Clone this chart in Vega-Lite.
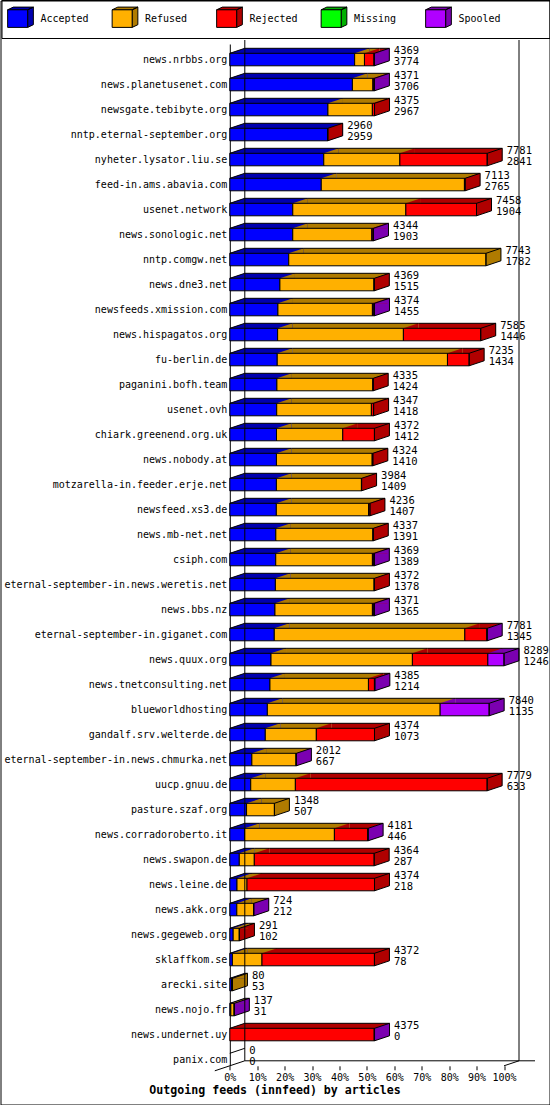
{
  "$schema": "https://vega.github.io/schema/vega-lite/v6.json",
  "width": 549,
  "height": 1104,
  "autosize": {"type": "none"},
  "padding": {"left": 0.5, "top": 0.5, "right": 0.5, "bottom": 0.5},
  "background": "white",
  "config": {"view": {"stroke": "black", "strokeWidth": 1, "fill": "white"}, "font": "DejaVu Sans Mono",
    "axisX": {"domain": false, "grid": false, "ticks": true, "tickSize": 4, "tickColor": "black", "labelFont": "DejaVu Sans Mono", "labelFontSize": 10, "labelColor": "black", "labelPadding": 3, "labelFlush": false, "labelOverlap": false, "labelSeparation": -10}},
  "data": {"values": [
    {"site": "news.nrbbs.org", "total": 4369, "Accepted": 3774, "Refused": 297, "Rejected": 290, "Missing": 0, "Spooled": 8},
    {"site": "news.planetusenet.com", "total": 4371, "Accepted": 3706, "Refused": 620, "Rejected": 25, "Missing": 0, "Spooled": 20},
    {"site": "newsgate.tebibyte.org", "total": 4375, "Accepted": 2967, "Refused": 1343, "Rejected": 65, "Missing": 0, "Spooled": 0},
    {"site": "nntp.eternal-september.org", "total": 2960, "Accepted": 2959, "Refused": 0, "Rejected": 1, "Missing": 0, "Spooled": 0},
    {"site": "nyheter.lysator.liu.se", "total": 7781, "Accepted": 2841, "Refused": 2300, "Rejected": 2640, "Missing": 0, "Spooled": 0},
    {"site": "feed-in.ams.abavia.com", "total": 7113, "Accepted": 2765, "Refused": 4328, "Rejected": 20, "Missing": 0, "Spooled": 0},
    {"site": "usenet.network", "total": 7458, "Accepted": 1904, "Refused": 3418, "Rejected": 2136, "Missing": 0, "Spooled": 0},
    {"site": "news.sonologic.net", "total": 4344, "Accepted": 1903, "Refused": 2390, "Rejected": 35, "Missing": 0, "Spooled": 16},
    {"site": "nntp.comgw.net", "total": 7743, "Accepted": 1782, "Refused": 5961, "Rejected": 0, "Missing": 0, "Spooled": 0},
    {"site": "news.dne3.net", "total": 4369, "Accepted": 1515, "Refused": 2844, "Rejected": 10, "Missing": 0, "Spooled": 0},
    {"site": "newsfeeds.xmission.com", "total": 4374, "Accepted": 1455, "Refused": 2856, "Rejected": 40, "Missing": 0, "Spooled": 23},
    {"site": "news.hispagatos.org", "total": 7585, "Accepted": 1446, "Refused": 3802, "Rejected": 2337, "Missing": 0, "Spooled": 0},
    {"site": "fu-berlin.de", "total": 7235, "Accepted": 1434, "Refused": 5146, "Rejected": 655, "Missing": 0, "Spooled": 0},
    {"site": "paganini.bofh.team", "total": 4335, "Accepted": 1424, "Refused": 2901, "Rejected": 10, "Missing": 0, "Spooled": 0},
    {"site": "usenet.ovh", "total": 4347, "Accepted": 1418, "Refused": 2862, "Rejected": 67, "Missing": 0, "Spooled": 0},
    {"site": "chiark.greenend.org.uk", "total": 4372, "Accepted": 1412, "Refused": 2003, "Rejected": 957, "Missing": 0, "Spooled": 0},
    {"site": "news.nobody.at", "total": 4324, "Accepted": 1410, "Refused": 2894, "Rejected": 20, "Missing": 0, "Spooled": 0},
    {"site": "motzarella-in.feeder.erje.net", "total": 3984, "Accepted": 1409, "Refused": 2570, "Rejected": 5, "Missing": 0, "Spooled": 0},
    {"site": "newsfeed.xs3.de", "total": 4236, "Accepted": 1407, "Refused": 2789, "Rejected": 40, "Missing": 0, "Spooled": 0},
    {"site": "news.mb-net.net", "total": 4337, "Accepted": 1391, "Refused": 2936, "Rejected": 10, "Missing": 0, "Spooled": 0},
    {"site": "csiph.com", "total": 4369, "Accepted": 1389, "Refused": 2922, "Rejected": 40, "Missing": 0, "Spooled": 18},
    {"site": "eternal-september-in.news.weretis.net", "total": 4372, "Accepted": 1378, "Refused": 2984, "Rejected": 10, "Missing": 0, "Spooled": 0},
    {"site": "news.bbs.nz", "total": 4371, "Accepted": 1365, "Refused": 2946, "Rejected": 40, "Missing": 0, "Spooled": 20},
    {"site": "eternal-september-in.giganet.com", "total": 7781, "Accepted": 1345, "Refused": 5760, "Rejected": 666, "Missing": 0, "Spooled": 10},
    {"site": "news.quux.org", "total": 8289, "Accepted": 1246, "Refused": 4274, "Rejected": 2281, "Missing": 0, "Spooled": 488},
    {"site": "news.tnetconsulting.net", "total": 4385, "Accepted": 1214, "Refused": 2977, "Rejected": 181, "Missing": 0, "Spooled": 13},
    {"site": "blueworldhosting", "total": 7840, "Accepted": 1135, "Refused": 5224, "Rejected": 0, "Missing": 0, "Spooled": 1481},
    {"site": "gandalf.srv.welterde.de", "total": 4374, "Accepted": 1073, "Refused": 1543, "Rejected": 1758, "Missing": 0, "Spooled": 0},
    {"site": "eternal-september-in.news.chmurka.net", "total": 2012, "Accepted": 667, "Refused": 1335, "Rejected": 0, "Missing": 0, "Spooled": 10},
    {"site": "uucp.gnuu.de", "total": 7779, "Accepted": 633, "Refused": 1349, "Rejected": 5797, "Missing": 0, "Spooled": 0},
    {"site": "pasture.szaf.org", "total": 1348, "Accepted": 507, "Refused": 841, "Rejected": 0, "Missing": 0, "Spooled": 0},
    {"site": "news.corradoroberto.it", "total": 4181, "Accepted": 446, "Refused": 2716, "Rejected": 1009, "Missing": 0, "Spooled": 10},
    {"site": "news.swapon.de", "total": 4364, "Accepted": 287, "Refused": 454, "Rejected": 3623, "Missing": 0, "Spooled": 0},
    {"site": "news.leine.de", "total": 4374, "Accepted": 218, "Refused": 302, "Rejected": 3854, "Missing": 0, "Spooled": 0},
    {"site": "news.akk.org", "total": 724, "Accepted": 212, "Refused": 507, "Rejected": 0, "Missing": 0, "Spooled": 5},
    {"site": "news.gegeweb.org", "total": 291, "Accepted": 102, "Refused": 185, "Rejected": 4, "Missing": 0, "Spooled": 0},
    {"site": "sklaffkom.se", "total": 4372, "Accepted": 78, "Refused": 895, "Rejected": 3399, "Missing": 0, "Spooled": 0},
    {"site": "arecki.site", "total": 80, "Accepted": 53, "Refused": 27, "Rejected": 0, "Missing": 0, "Spooled": 0},
    {"site": "news.nojo.fr", "total": 137, "Accepted": 31, "Refused": 100, "Rejected": 0, "Missing": 0, "Spooled": 6},
    {"site": "news.undernet.uy", "total": 4375, "Accepted": 0, "Refused": 0, "Rejected": 4365, "Missing": 0, "Spooled": 10},
    {"site": "panix.com", "total": 0, "Accepted": 0, "Refused": 0, "Rejected": 0, "Missing": 0, "Spooled": 0}
  ]},
  "encoding": {
    "y": {
      "field": "site", "type": "nominal", "sort": null, "title": null,
      "scale": {
        "domain": ["news.nrbbs.org","news.planetusenet.com","newsgate.tebibyte.org","nntp.eternal-september.org","nyheter.lysator.liu.se","feed-in.ams.abavia.com","usenet.network","news.sonologic.net","nntp.comgw.net","news.dne3.net","newsfeeds.xmission.com","news.hispagatos.org","fu-berlin.de","paganini.bofh.team","usenet.ovh","chiark.greenend.org.uk","news.nobody.at","motzarella-in.feeder.erje.net","newsfeed.xs3.de","news.mb-net.net","csiph.com","eternal-september-in.news.weretis.net","news.bbs.nz","eternal-september-in.giganet.com","news.quux.org","news.tnetconsulting.net","blueworldhosting","gandalf.srv.welterde.de","eternal-september-in.news.chmurka.net","uucp.gnuu.de","pasture.szaf.org","news.corradoroberto.it","news.swapon.de","news.leine.de","news.akk.org","news.gegeweb.org","sklaffkom.se","arecki.site","news.nojo.fr","news.undernet.uy","panix.com"],
        "range": [43.5, 1065.3],
        "paddingInner": 0.5, "paddingOuter": 0.186, "align": 1
      },
      "axis": {"offset": -229.3, "domain": true, "domainColor": "black", "domainWidth": 1, "ticks": false, "labelPadding": 3, "labelLimit": 400, "labelFont": "DejaVu Sans Mono", "labelFontSize": 10, "labelColor": "black", "grid": false}
    }
  },
  "layer": [
    {
      "transform": [
        {"fold": ["Accepted","Refused","Rejected","Missing","Spooled"], "as": ["status","count"]},
        {"filter": "datum.count > 0"},
        {"stack": "count", "groupby": ["site"], "sort": [{"field": "status", "order": "ascending"}], "as": ["x0","x1"]}
      ],
      "mark": {"type": "bar", "xOffset": 15, "x2Offset": 15, "yOffset": -5, "y2Offset": -5},
      "encoding": {
        "x": {"field": "x0", "type": "quantitative", "stack": null, "title": null, "scale": {"domain": [0, 8289], "range": [229.3, 503.5], "nice": false, "zero": true},
          "axis": {"offset": -38.7, "values": [0, 828.9, 1657.8, 2486.7, 3315.6, 4144.5, 4973.4, 5802.3, 6631.2, 7460.1, 8289], "labelExpr": "round(datum.value / 82.89) + '%'", "labelOverlap": false, "labelSeparation": -10, "labelFlush": false, "labelBound": false, "title": null}},
        "x2": {"field": "x1"},
        "fill": {"field": "status", "type": "nominal",
          "scale": {"domain": ["Accepted","Refused","Rejected","Missing","Spooled","-"], "range": ["#0000b0","#b07b00","#b00000","#00b000","#7b00b0","#ffffff"]},
          "legend": {"orient": "none", "legendX": 1.0, "legendY": -0.5, "direction": "horizontal", "columns": 5, "gridAlign": "all", "columnPadding": 20.5,
            "values": ["Accepted","Refused","Rejected","Missing","Spooled"],
            "symbolType": "M-1.285,-0.93L-0.715,-1.2L1.285,-1.2L0.715,-0.93ZM0.715,-0.93L1.285,-1.2L1.285,0.56L0.715,0.83Z",
            "symbolSize": 400, "symbolStrokeColor": "black", "symbolStrokeWidth": 1, "symbolOpacity": 1,
            "labelOffset": 9.45, "labelFont": "DejaVu Sans Mono", "labelFontSize": 10, "labelColor": "black", "labelOpacity": 0,
            "title": null, "padding": 8.5}
        }
      }
    },
    {
      "transform": [
        {"fold": ["Accepted","Refused","Rejected","Missing","Spooled"], "as": ["status","count"]},
        {"filter": "datum.count > 0"},
        {"stack": "count", "groupby": ["site"], "sort": [{"field": "status", "order": "ascending"}], "as": ["x0","x1"]}
      ],
      "mark": {"type": "point", "shape": "M0,6.25L0,-6.25L15,-11.25L15,1.25Z", "size": 4, "filled": true, "opacity": 1},
      "encoding": {
        "x": {"field": "x1", "type": "quantitative", "title": null},
        "fill": {"field": "status", "type": "nominal", "legend": null}
      }
    },
    {
      "transform": [
        {"fold": ["Accepted","Refused","Rejected","Missing","Spooled"], "as": ["status","count"]},
        {"filter": "datum.count > 0"},
        {"stack": "count", "groupby": ["site"], "sort": [{"field": "status", "order": "ascending"}], "as": ["x0","x1"]}
      ],
      "mark": {"type": "point", "shape": "M0,-6.25L15,-11.25L15,-6.25Z", "size": 4, "filled": true, "opacity": 1},
      "encoding": {
        "x": {"field": "x0", "type": "quantitative", "title": null},
        "fill": {"field": "status", "type": "nominal", "legend": null}
      }
    },
    {
      "transform": [
        {"fold": ["Accepted","Refused","Rejected","Missing","Spooled"], "as": ["status","count"]},
        {"filter": "datum.count > 0"},
        {"stack": "count", "groupby": ["site"], "sort": [{"field": "status", "order": "ascending"}], "as": ["x0","x1"]}
      ],
      "mark": {"type": "bar", "stroke": "black", "strokeWidth": 1},
      "encoding": {
        "x": {"field": "x0", "type": "quantitative", "stack": null, "title": null},
        "x2": {"field": "x1"},
        "color": {"field": "status", "type": "nominal",
          "scale": {"domain": ["Accepted","Refused","Rejected","Missing","Spooled"], "range": ["#0000ff","#ffb000","#ff0000","#00ff00","#b000ff"]},
          "legend": {"orient": "none", "legendX": 1.0, "legendY": -0.5, "direction": "horizontal", "columns": 5, "gridAlign": "all", "columnPadding": 20.5,
            "symbolType": "M-1.285,-0.93H0.715V0.83H-1.285ZM1.285,-1.2",
            "symbolSize": 400, "symbolStrokeColor": "black", "symbolStrokeWidth": 1, "symbolOpacity": 1,
            "labelOffset": 9.45, "labelFont": "DejaVu Sans Mono", "labelFontSize": 10, "labelColor": "black",
            "title": " ", "titleOrient": "right", "titlePadding": 39.5, "titleFont": "DejaVu Sans Mono", "titleFontSize": 10,
            "padding": 8.5, "strokeColor": "black"}
        }
      }
    },
    {
      "transform": [
        {"fold": ["Accepted","Refused","Rejected","Missing","Spooled"], "as": ["status","count"]},
        {"filter": "datum.count > 0"},
        {"stack": "count", "groupby": ["site"], "sort": [{"field": "status", "order": "ascending"}], "as": ["x0","x1"]}
      ],
      "mark": {"type": "rule", "color": "black", "strokeWidth": 1, "xOffset": 15, "x2Offset": 15, "yOffset": -11.25, "y2Offset": -11.25},
      "encoding": {"x": {"field": "x0", "type": "quantitative", "title": null}, "x2": {"field": "x1"}}
    },
    {
      "transform": [
        {"fold": ["Accepted","Refused","Rejected","Missing","Spooled"], "as": ["status","count"]},
        {"filter": "datum.count > 0"},
        {"stack": "count", "groupby": ["site"], "sort": [{"field": "status", "order": "ascending"}], "as": ["x0","x1"]},
        {"filter": "datum.x0 == 0"}
      ],
      "mark": {"type": "point", "shape": "M0,-6.25L15,-11.25", "size": 4, "filled": false, "color": "black", "strokeWidth": 1, "opacity": 1},
      "encoding": {"x": {"field": "x0", "type": "quantitative", "title": null}}
    },
    {
      "transform": [{"filter": "datum.total > 0"}],
      "mark": {"type": "point", "shape": "M0,6.25L0,-6.25L15,-11.25L15,1.25Z", "size": 4, "filled": false, "color": "black", "strokeWidth": 1, "opacity": 1},
      "encoding": {"x": {"field": "total", "type": "quantitative", "title": null}}
    },
    {
      "mark": {"type": "text", "align": "left", "baseline": "alphabetic", "dx": 19.5, "dy": -5.2, "font": "DejaVu Sans Mono", "fontSize": 10.5, "color": "black"},
      "encoding": {"x": {"field": "total", "type": "quantitative", "title": null}, "text": {"field": "total", "type": "quantitative", "format": "d"}}
    },
    {
      "mark": {"type": "text", "align": "left", "baseline": "alphabetic", "dx": 19.5, "dy": 5.5, "font": "DejaVu Sans Mono", "fontSize": 10.5, "color": "black"},
      "encoding": {"x": {"field": "total", "type": "quantitative", "title": null}, "text": {"field": "Accepted", "type": "quantitative", "format": "d"}}
    },
    {
      "data": {"values": [{"v": 0, "a": "news.nrbbs.org", "b": "panix.com"}, {"v": 8289, "a": "news.nrbbs.org", "b": "panix.com"}]},
      "mark": {"type": "rule", "color": "black", "strokeWidth": 1, "xOffset": 15, "x2Offset": 15, "yOffset": -19.55, "y2Offset": 1.25},
      "encoding": {
        "x": {"field": "v", "type": "quantitative", "title": null},
        "y": {"field": "a", "type": "nominal", "title": null},
        "y2": {"field": "b"}
      }
    },
    {
      "data": {"values": [{"v0": 0, "v1": 8289, "site": "panix.com"}]},
      "mark": {"type": "rule", "color": "black", "strokeWidth": 1, "xOffset": 15, "x2Offset": 31, "yOffset": 1.25, "y2Offset": 1.25},
      "encoding": {
        "x": {"field": "v0", "type": "quantitative", "title": null},
        "x2": {"field": "v1"}
      }
    },
    {
      "data": {"values": [{"v": 0, "site": "panix.com"}]},
      "mark": {"type": "point", "shape": "M-15,11.25L15,1.25M0,-6.25L15,-11.25", "size": 4, "filled": false, "color": "black", "strokeWidth": 1, "opacity": 1},
      "encoding": {"x": {"field": "v", "type": "quantitative", "title": null}}
    },
    {
      "data": {"values": [{"v": 8289, "site": "panix.com"}]},
      "mark": {"type": "point", "shape": "M0,6.25L15,1.25", "size": 4, "filled": false, "color": "black", "strokeWidth": 1, "opacity": 1},
      "encoding": {"x": {"field": "v", "type": "quantitative", "title": null}}
    }
  ],
  "title": {"text": "Outgoing feeds (innfeed) by articles", "orient": "bottom", "anchor": "middle", "frame": "group", "font": "DejaVu Sans Mono", "fontSize": 11.6, "fontWeight": "bold", "color": "black", "offset": -20}
}
